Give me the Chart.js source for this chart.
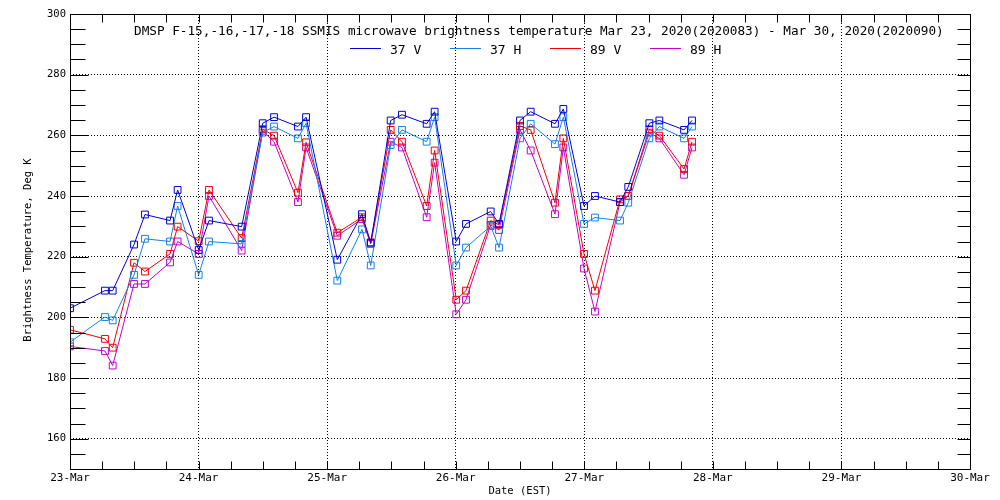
<!DOCTYPE html>
<html>
<head>
<meta charset="utf-8">
<script src="https://cdn.jsdelivr.net/npm/chart.js@4.4.1/dist/chart.umd.min.js"></script>
<style>
  html, body { margin: 0; padding: 0; background: #fff; }
  #wrap { width: 1000px; height: 500px; }
</style>
</head>
<body>
<div id="wrap"><canvas id="tbChart" width="1000" height="500"></canvas></div>
<script>
// texts
const chartTitle = "DMSP F-15,-16,-17,-18 SSMIS microwave brightness temperature Mar 23, 2020(2020083) - Mar 30, 2020(2020090)"
const xTitle = "Date (EST)"
const yTitle = "Brightness Temperature, Deg K"

// tick labels
const dayLabels = ["23-Mar", "24-Mar", "25-Mar", "26-Mar", "27-Mar", "28-Mar", "29-Mar", "30-Mar"]
const yTickValues = [160, 180, 200, 220, 240, 260, 280, 300]

// observation times, days after 23-Mar 00:00 (EST)
const obsDays = [
  0.000, 0.272, 0.332, 0.498, 0.583, 0.778, 0.837,
  1.001, 1.081, 1.335, 1.499, 1.587, 1.773, 1.836,
  2.079, 2.271, 2.339, 2.494, 2.582, 2.774, 2.836,
  3.004, 3.080, 3.272, 3.337, 3.500, 3.583, 3.772, 3.837,
  3.998, 4.083, 4.278, 4.342, 4.506, 4.584, 4.776, 4.838,
]

// brightness temperatures (K)
const tb37V = [
  203.0, 208.8, 208.8, 224.0, 233.9, 231.9, 242.0,
  222.2, 231.9, 229.9, 264.0, 266.0, 262.9, 266.0,
  219.0, 234.0, 224.6, 264.9, 266.8, 263.8, 267.8,
  225.0, 230.8, 234.9, 230.8, 264.9, 267.8, 263.8, 268.7,
  236.7, 240.0, 238.0, 243.0, 264.0, 264.9, 261.8, 264.9,
]
const tb37H = [
  191.8, 200.1, 199.0, 214.0, 225.9, 225.0, 236.7,
  214.0, 225.0, 224.2, 260.9, 262.9, 259.0, 264.0,
  212.1, 229.0, 217.1, 256.8, 261.8, 257.9, 266.0,
  217.1, 223.0, 230.1, 223.0, 259.0, 263.8, 257.1, 266.0,
  230.8, 232.9, 231.9, 237.8, 259.0, 262.9, 259.0, 262.9,
]
const tb89V = [
  195.9, 192.9, 190.0, 218.0, 215.1, 220.9, 229.9,
  225.1, 242.0, 226.1, 262.0, 259.9, 241.1, 257.7,
  227.9, 233.0, 224.7, 261.8, 257.9, 236.7, 255.0,
  205.8, 208.8, 231.9, 230.5, 263.1, 261.8, 237.8, 259.0,
  220.9, 208.8, 238.9, 240.0, 262.0, 259.9, 248.9, 257.9,
]
const tb89H = [
  190.4, 188.9, 184.1, 211.0, 211.0, 218.1, 225.0,
  220.9, 240.0, 222.0, 261.5, 257.9, 238.0, 256.0,
  226.9, 232.4, 224.2, 257.9, 256.0, 233.0, 251.0,
  201.0, 205.8, 230.5, 228.8, 261.8, 255.0, 234.0, 256.0,
  216.1, 201.9, 238.0, 240.0, 260.9, 259.0, 247.0, 256.0,
]

const MONO = "'DejaVu Sans Mono', monospace"

function makeSeries(label, values, color) {
  return {
    label: label,
    data: obsDays.map((d, i) => ({ x: d, y: values[i] })),
    borderColor: color,
    borderWidth: 1,
    tension: 0,
    fill: false,
    pointStyle: "rect",
    pointRadius: 4.8,
    pointBorderWidth: 1,
    pointBorderColor: color,
    pointBackgroundColor: "rgba(0,0,0,0)",
  }
}

// 枠・内向き目盛り・タイトル・凡例
const frameAndText = {
  id: "frameAndText",
  afterDraw(chart) {
    const { ctx, chartArea: a, scales } = chart
    const xs = scales.x
    const ys = scales.y
    ctx.save()
    ctx.strokeStyle = "#000"
    ctx.lineWidth = 1
    ctx.setLineDash([])

    const L = Math.round(a.left) + 0.5
    const R = Math.round(a.right) + 0.5
    const T = Math.round(a.top) + 0.5
    const B = Math.round(a.bottom) + 0.5
    ctx.beginPath()
    ctx.rect(L, T, R - L, B - T)

    // y ticks every 5 K
    for (let v = ys.min; v <= ys.max; v += 5) {
      const py = Math.round(ys.getPixelForValue(v)) + 0.5
      const len = v % 20 === 0 ? 18 : 15
      ctx.moveTo(L, py); ctx.lineTo(L + len, py)
      ctx.moveTo(R, py); ctx.lineTo(R - 13, py)
    }
    // x ticks every 6 hours
    for (let d = xs.min; d <= xs.max + 1e-6; d += 0.25) {
      const px = Math.round(xs.getPixelForValue(d)) + 0.5
      ctx.moveTo(px, B); ctx.lineTo(px, B - 8)
      ctx.moveTo(px, T); ctx.lineTo(px, T + 8)
    }
    ctx.stroke()

    ctx.fillStyle = "#000"
    ctx.font = "12.7px " + MONO
    ctx.textAlign = "left"
    ctx.textBaseline = "alphabetic"
    ctx.fillText(chartTitle, 134, 35)

    // legend
    ctx.font = "13px " + MONO
    chart.data.datasets.forEach((ds, i) => {
      const lx = 350 + 100 * i
      ctx.strokeStyle = ds.borderColor
      ctx.beginPath()
      ctx.moveTo(lx, 48.5); ctx.lineTo(lx + 31, 48.5)
      ctx.stroke()
      ctx.fillText(ds.label, lx + 40, 54)
    })

    // axis titles
    ctx.font = "10.5px " + MONO
    ctx.textAlign = "center"
    ctx.textBaseline = "middle"
    ctx.fillText(xTitle, 520, 491)
    ctx.translate(28, 250)
    ctx.rotate(-Math.PI / 2)
    ctx.fillText(yTitle, 0, 0)
    ctx.restore()
  },
}

document.addEventListener("DOMContentLoaded", () => {
  const ctx = document.getElementById("tbChart").getContext("2d")

  new Chart(ctx, {
    type: "line",
    data: {
      datasets: [
        makeSeries("37 V", tb37V, "#0000d4"),
        makeSeries("37 H", tb37H, "#1480e8"),
        makeSeries("89 V", tb89V, "#f00000"),
        makeSeries("89 H", tb89H, "#c000d0"),
      ],
    },
    options: {
      responsive: false,
      animation: false,
      devicePixelRatio: 1,
      layout: { padding: { top: 14, right: 30, left: 0, bottom: 0 } },
      plugins: {
        legend: { display: false },
        tooltip: { enabled: false },
      },
      scales: {
        x: {
          type: "linear",
          min: 0,
          max: 7,
          afterBuildTicks: (s) => { s.ticks = dayLabels.map((_, i) => ({ value: i })) },
          afterFit: (s) => { s.height = 31 },
          ticks: {
            callback: (v) => dayLabels[v],
            color: "#000",
            font: { family: MONO, size: 11 },
            padding: 3,
            maxRotation: 0,
            autoSkip: false,
          },
          grid: { color: "#000", lineWidth: 1, drawTicks: false },
          border: { display: false, dash: [1, 2] },
        },
        y: {
          min: 150,
          max: 300,
          afterBuildTicks: (s) => { s.ticks = yTickValues.map((v) => ({ value: v })) },
          afterFit: (s) => { s.width = 70 },
          ticks: {
            color: "#000",
            font: { family: MONO, size: 10.5 },
            padding: 4,
          },
          grid: { color: "#000", lineWidth: 1, drawTicks: false },
          border: { display: false, dash: [1, 2] },
        },
      },
    },
    plugins: [frameAndText],
  })
})
</script>
</body>
</html>
